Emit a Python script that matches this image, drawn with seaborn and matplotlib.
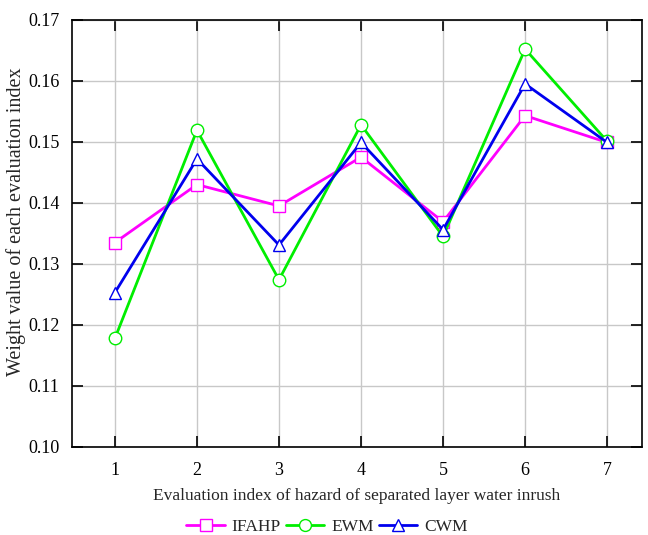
import matplotlib
matplotlib.use("Agg")
import matplotlib.pyplot as plt
import seaborn as sns
import pandas as pd

idx = [1, 2, 3, 4, 5, 6, 7]
ifahp = [0.1335, 0.1430, 0.1395, 0.1475, 0.1369, 0.1543, 0.1499]
ewm = [0.1178, 0.1519, 0.1274, 0.1528, 0.1345, 0.1652, 0.1501]
cwm = [0.1253, 0.1472, 0.1331, 0.1499, 0.1356, 0.1595, 0.1499]
names = ["IFAHP", "EWM", "CWM"]
colors = ["#ff00ff", "#00ee00", "#0000ee"]
markers = ["s", "o", "^"]
yticks = [0.10, 0.11, 0.12, 0.13, 0.14, 0.15, 0.16, 0.17]

sns.set_style("white")
plt.rcParams['font.family'] = ['Liberation Serif', 'DejaVu Serif']

fig = plt.figure(figsize=(6.48, 5.35), dpi=100)
ax = fig.add_axes([0.111, 0.1645, 0.88, 0.7985])

for name, vals, c, m in zip(names, [ifahp, ewm, cwm], colors, markers):
    df = pd.DataFrame({"x": idx, "y": vals})
    sns.lineplot(data=df, x="x", y="y", ax=ax, color=c, marker=m, markersize=9,
                 markerfacecolor="white", markeredgecolor=c, markeredgewidth=1.0,
                 linewidth=2, label=name)

ax.set_xlim(0.476, 7.427)
ax.set_ylim(0.10, 0.17)
ax.set_xticks(idx)
ax.set_yticks(yticks)
ax.set_yticklabels([f"{v:.2f}" for v in yticks])
ax.grid(True, color="#c8c8c8", linewidth=1)
ax.set_axisbelow(True)
for s in ax.spines.values():
    s.set_color("black")
    s.set_linewidth(1.2)
ax.tick_params(direction="in", length=8, width=1.2, labelsize=13, colors="black",
               top=True, right=True, bottom=True, left=True)
ax.tick_params(axis="y", pad=9)
ax.tick_params(axis="x", pad=11)
ax.set_xlabel("Evaluation index of hazard of separated layer water inrush", fontsize=12.5)
ax.xaxis.set_label_coords(0.5, -0.095)
ax.set_ylabel("Weight value of each evaluation index", fontsize=14.5)
ax.yaxis.set_label_coords(-0.08, 0.527)

fig.legend(*ax.get_legend_handles_labels(), loc="center", bbox_to_anchor=(327 / 648, 1 - 527 / 535),
           ncol=3, frameon=False, fontsize=12.5, handlelength=2.2, columnspacing=0.3,
           handletextpad=0.4, markerscale=0.95)
ax.get_legend().remove()

fig.savefig("out.png", dpi=100)
